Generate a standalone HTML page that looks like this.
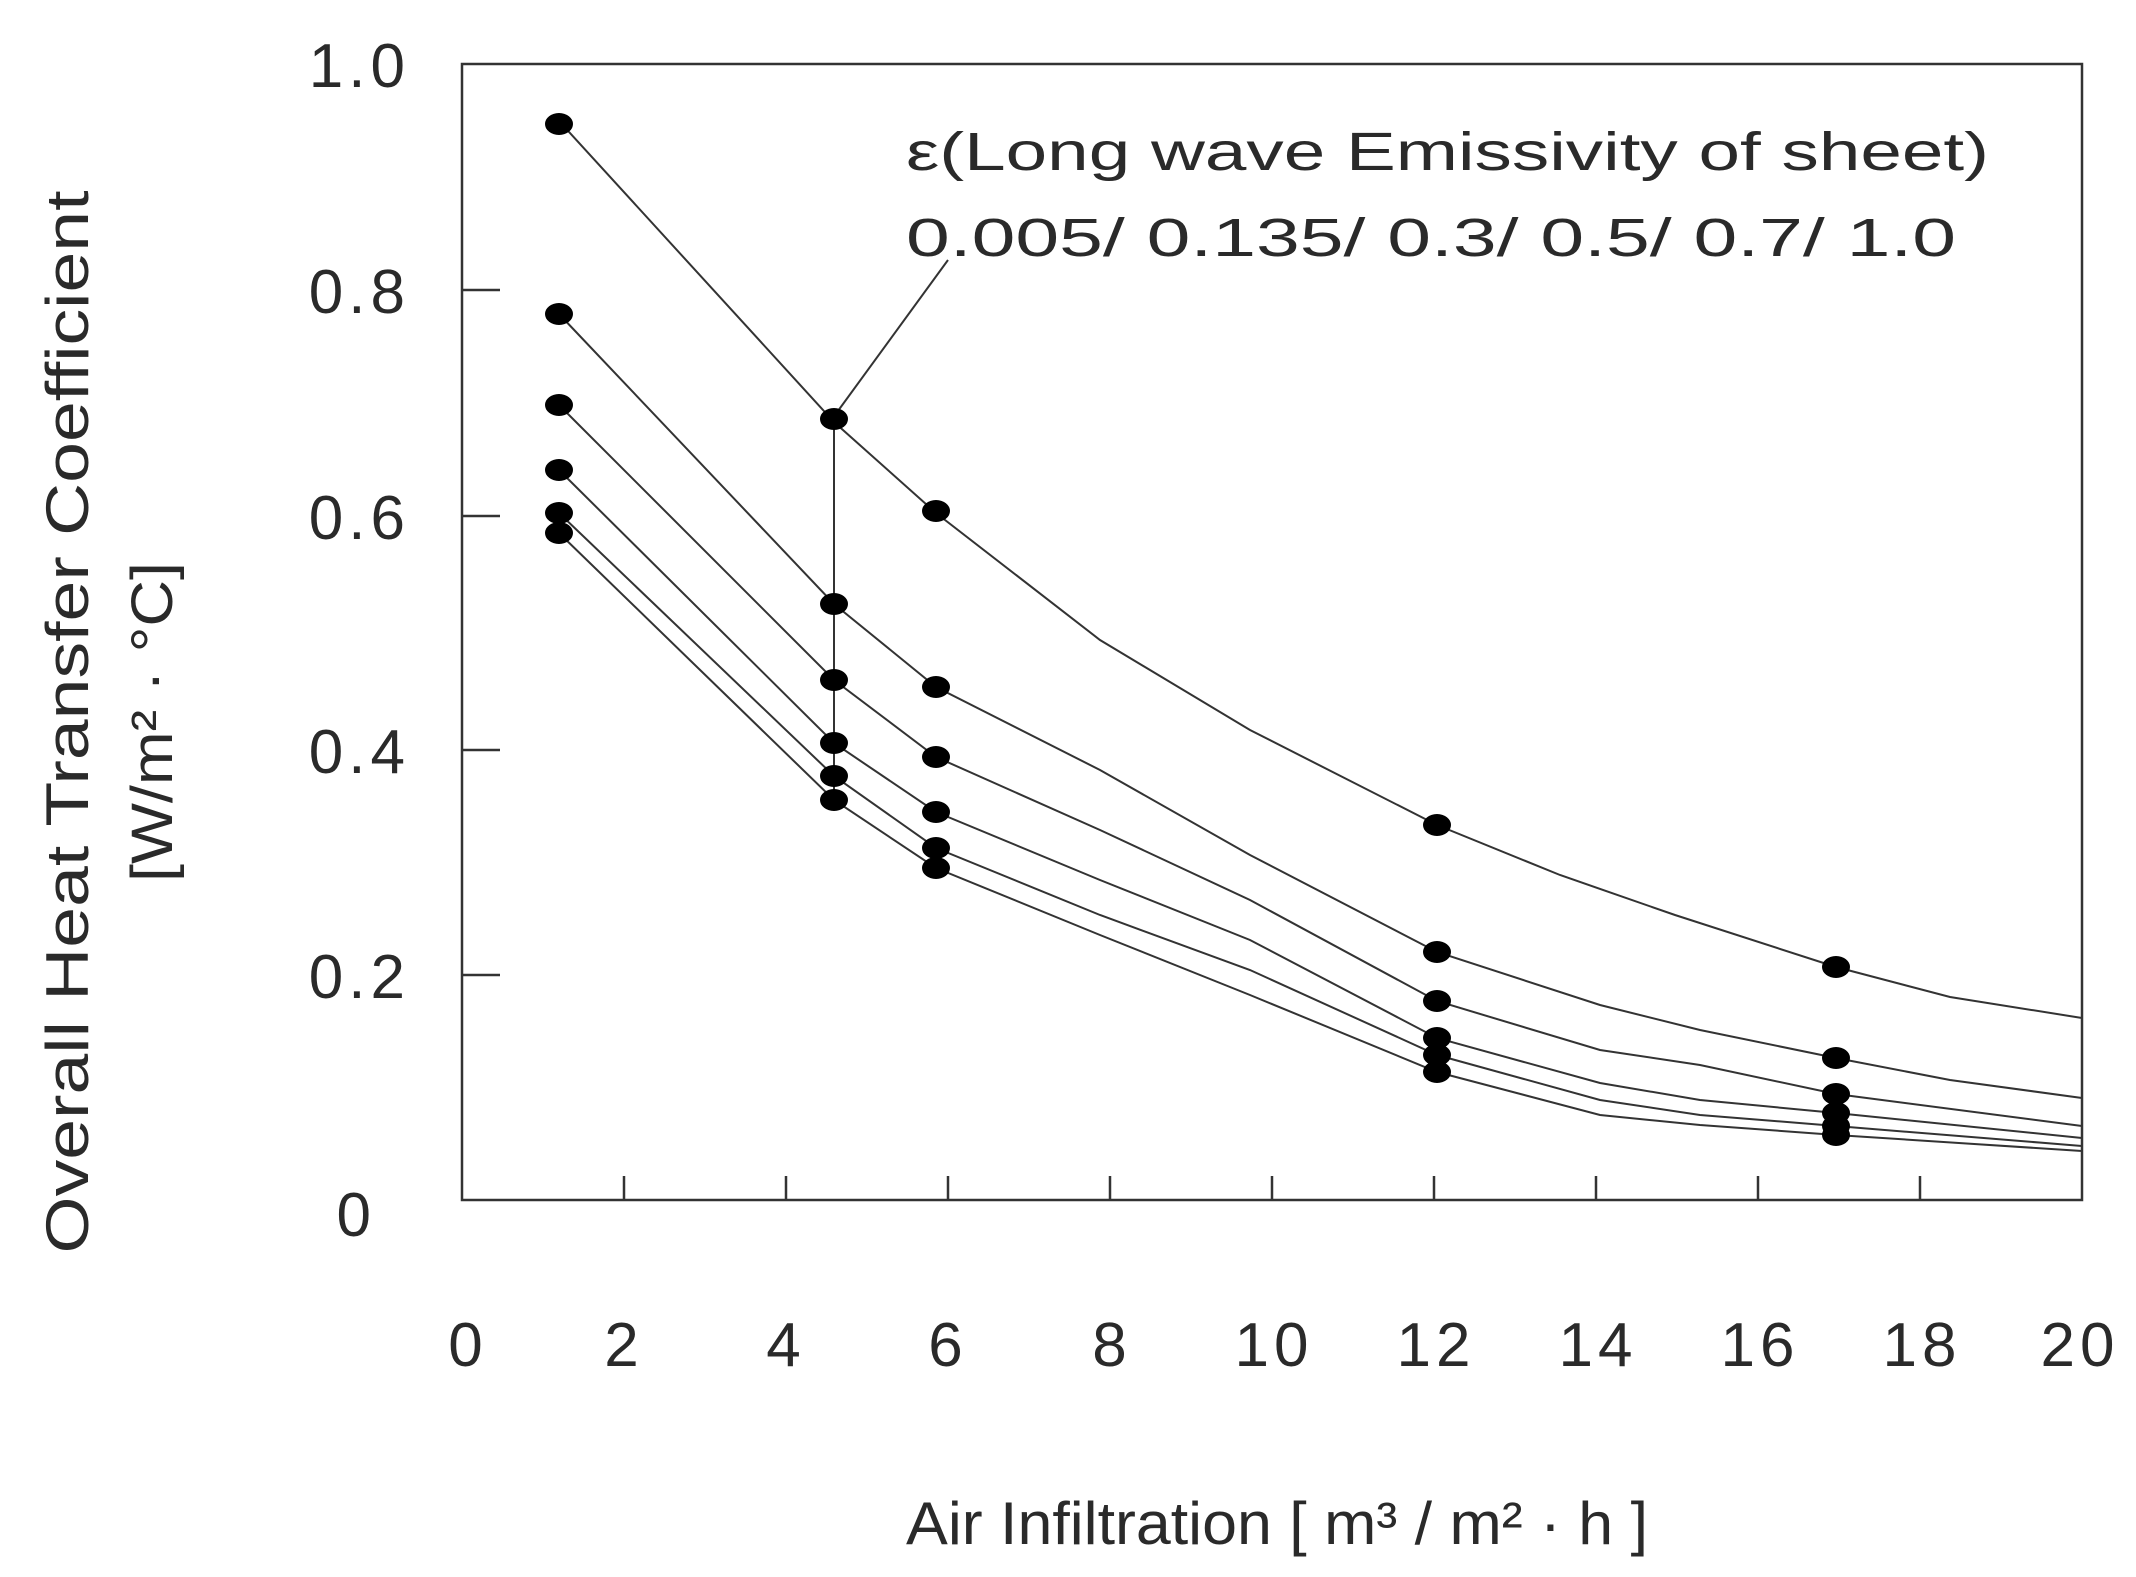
<!DOCTYPE html>
<html><head><meta charset="utf-8"><style>body{margin:0;background:#fff}svg{display:block}</style></head><body>
<svg width="2136" height="1577" viewBox="0 0 2136 1577" xmlns="http://www.w3.org/2000/svg" font-family="Liberation Sans, sans-serif" fill="#2a2a2a">
<rect x="462" y="64" width="1620" height="1136" fill="none" stroke="#333" stroke-width="2.5"/>
<g stroke="#333" stroke-width="2.5">
<line x1="462" y1="290" x2="500" y2="290"/><line x1="462" y1="516" x2="500" y2="516"/><line x1="462" y1="750" x2="500" y2="750"/><line x1="462" y1="975" x2="500" y2="975"/>
<line x1="624" y1="1200" x2="624" y2="1176"/><line x1="786" y1="1200" x2="786" y2="1176"/><line x1="948" y1="1200" x2="948" y2="1176"/><line x1="1110" y1="1200" x2="1110" y2="1176"/><line x1="1272" y1="1200" x2="1272" y2="1176"/><line x1="1434" y1="1200" x2="1434" y2="1176"/><line x1="1596" y1="1200" x2="1596" y2="1176"/><line x1="1758" y1="1200" x2="1758" y2="1176"/><line x1="1920" y1="1200" x2="1920" y2="1176"/>
</g>
<g font-size="62" text-anchor="end" letter-spacing="5">
<text x="410" y="87">1.0</text><text x="410" y="313">0.8</text><text x="410" y="539">0.6</text><text x="410" y="773">0.4</text><text x="410" y="998">0.2</text><text x="376" y="1236">0</text>
</g>
<g font-size="62" text-anchor="middle" letter-spacing="5">
<text x="468" y="1366">0</text><text x="624" y="1366">2</text><text x="786" y="1366">4</text><text x="948" y="1366">6</text><text x="1112" y="1366">8</text><text x="1274" y="1366">10</text><text x="1436" y="1366">12</text><text x="1598" y="1366">14</text><text x="1760" y="1366">16</text><text x="1922" y="1366">18</text><text x="2080" y="1366">20</text>
</g>
<text x="906" y="1544" font-size="60" textLength="742" lengthAdjust="spacingAndGlyphs">Air Infiltration [ m³ / m² · h ]</text>
<g transform="translate(88,722) rotate(-90)"><text x="0" y="0" font-size="60" text-anchor="middle" textLength="1063" lengthAdjust="spacingAndGlyphs">Overall Heat Transfer Coefficient</text></g>
<g transform="translate(172,722) rotate(-90)"><text x="0" y="0" font-size="58" text-anchor="middle" textLength="320" lengthAdjust="spacingAndGlyphs">[W/m² · °C]</text></g>
<text x="906" y="170" font-size="54" textLength="1083" lengthAdjust="spacingAndGlyphs">ε(Long wave Emissivity of sheet)</text>
<text x="906" y="256" font-size="54" textLength="1050" lengthAdjust="spacingAndGlyphs">0.005/ 0.135/ 0.3/ 0.5/ 0.7/ 1.0</text>
<g stroke="#333" stroke-width="2" fill="none">
<line x1="835" y1="415" x2="948" y2="260"/>
<line x1="834" y1="422" x2="834" y2="800"/>
<polyline points="559,121 834,422 936,513 1100,640 1250,730 1437,825 1560,875 1675,915 1836,967 1950,997 2082,1018"/>
<polyline points="559,314 834,604 936,687 1100,770 1250,855 1437,952 1600,1005 1700,1030 1836,1058 1950,1080 2082,1098"/>
<polyline points="559,405 834,680 936,757 1100,830 1250,900 1437,1001 1600,1050 1700,1065 1836,1094 2082,1126"/>
<polyline points="559,470 834,743 936,812 1100,880 1250,940 1437,1038 1600,1083 1700,1100 1836,1113 2082,1138"/>
<polyline points="559,513 834,776 936,848 1100,915 1250,970 1437,1055 1600,1100 1700,1115 1836,1126 2082,1146"/>
<polyline points="559,533 834,800 936,868 1100,935 1250,995 1437,1072 1600,1115 1700,1125 1836,1135 2082,1151"/>
</g>
<g fill="#000">
<ellipse cx="559" cy="124" rx="14" ry="11"/><ellipse cx="559" cy="314" rx="14" ry="11"/><ellipse cx="559" cy="405" rx="14" ry="11"/><ellipse cx="559" cy="470" rx="14" ry="11"/><ellipse cx="559" cy="513" rx="14" ry="11"/><ellipse cx="559" cy="533" rx="14" ry="11"/>
<ellipse cx="834" cy="419" rx="14" ry="11"/><ellipse cx="834" cy="604" rx="14" ry="11"/><ellipse cx="834" cy="680" rx="14" ry="11"/><ellipse cx="834" cy="743" rx="14" ry="11"/><ellipse cx="834" cy="776" rx="14" ry="11"/><ellipse cx="834" cy="800" rx="14" ry="11"/>
<ellipse cx="936" cy="511" rx="14" ry="11"/><ellipse cx="936" cy="687" rx="14" ry="11"/><ellipse cx="936" cy="757" rx="14" ry="11"/><ellipse cx="936" cy="812" rx="14" ry="11"/><ellipse cx="936" cy="848" rx="14" ry="11"/><ellipse cx="936" cy="868" rx="14" ry="11"/>
<ellipse cx="1437" cy="825" rx="14" ry="11"/><ellipse cx="1437" cy="952" rx="14" ry="11"/><ellipse cx="1437" cy="1001" rx="14" ry="11"/><ellipse cx="1437" cy="1038" rx="14" ry="11"/><ellipse cx="1437" cy="1055" rx="14" ry="11"/><ellipse cx="1437" cy="1072" rx="14" ry="11"/>
<ellipse cx="1836" cy="967" rx="14" ry="11"/><ellipse cx="1836" cy="1058" rx="14" ry="11"/><ellipse cx="1836" cy="1094" rx="14" ry="11"/><ellipse cx="1836" cy="1113" rx="14" ry="11"/><ellipse cx="1836" cy="1126" rx="14" ry="11"/><ellipse cx="1836" cy="1135" rx="14" ry="11"/>
</g>
</svg>
</body></html>
